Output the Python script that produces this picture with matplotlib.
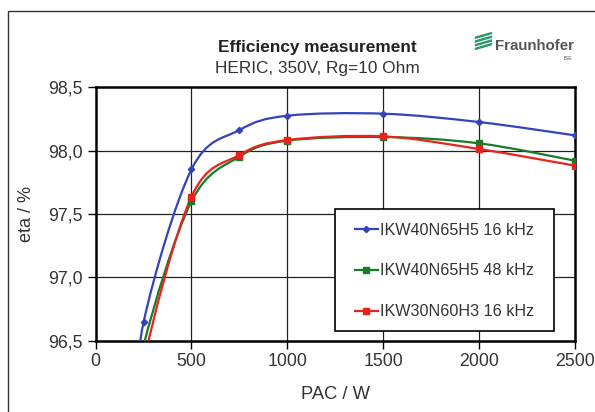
#!/usr/bin/env python3
"""Efficiency measurement, HERIC 350V - three IGBT variants."""

import numpy as np
import matplotlib
matplotlib.use('Agg')
import matplotlib.pyplot as plt
from matplotlib.path import Path
from matplotlib.patches import PathPatch, Rectangle, Polygon
from matplotlib.lines import Line2D

plt.rcParams['font.family'] = ['Liberation Sans', 'DejaVu Sans']

# measured points (PAC in W, eta in %)
pac = [200, 250, 500, 750, 1000, 1500, 2000, 2500]
eta_h5_16 = [95.75, 96.645, 97.853, 98.163, 98.276, 98.292, 98.226, 98.121]
eta_h5_48 = [95.75, 96.46, 97.600, 97.953, 98.079, 98.108, 98.058, 97.921]
eta_h3_16 = [95.55, 96.33, 97.637, 97.966, 98.084, 98.113, 98.013, 97.882]

labels = ['IKW40N65H5 16 kHz', 'IKW40N65H5 48 kHz', 'IKW30N60H3 16 kHz']
colors = ['#3344bb', '#1a7a2a', '#e8231c']
markers = ['D', 's', 's']
msizes = [3.2, 4.5, 4.5]
xticks = [0, 500, 1000, 1500, 2000, 2500]
yticks = [96.5, 97.0, 97.5, 98.0, 98.5]


def smooth_path(x, y):
    """Excel-like smoothed line: cubic Bezier through every point."""
    p = np.column_stack([x, y]).astype(float)
    verts = [p[0]]
    codes = [Path.MOVETO]
    n = len(p)
    for i in range(n - 1):
        p0 = p[i - 1] if i > 0 else p[i]
        p3 = p[i + 2] if i + 2 < n else p[i + 1]
        c1 = p[i] + (p[i + 1] - p0) / 6.0
        c2 = p[i + 1] - (p3 - p[i]) / 6.0
        verts += [c1, c2, p[i + 1]]
        codes += [Path.CURVE4] * 3
    return Path(verts, codes)


fig = plt.figure(figsize=(5.95, 4.12), dpi=100)
ax = fig.add_axes([0.1607, 0.173, 0.8057, 0.615])

for xv in xticks[1:-1]:
    ax.axvline(xv, color='#222222', lw=0.9, zorder=1)
for yv in yticks[1:-1]:
    ax.axhline(yv, color='#222222', lw=0.9, zorder=1)

series = [eta_h5_16, eta_h5_48, eta_h3_16]
for ys, c, m, ms, lab in zip(series, colors, markers, msizes, labels):
    patch = PathPatch(smooth_path(pac, ys), facecolor='none', edgecolor=c,
                      lw=1.6, zorder=3)
    ax.add_patch(patch)
    ax.plot(pac, ys, ls='none', marker=m, ms=ms, color=c, zorder=4)

ax.set_xlim(0, 2500)
ax.set_ylim(96.5, 98.5)
ax.set_xticks(xticks)
ax.set_yticks(yticks)
ax.set_xticklabels([str(v) for v in xticks])
ax.set_yticklabels([f'{v:.1f}'.replace('.', ',') for v in yticks])
ax.tick_params(axis='both', direction='out', length=5.5, width=1,
               labelsize=12.8, labelcolor='#333333', pad=3.5)
for s in ax.spines.values():
    s.set_linewidth(1.8)
    s.set_color('black')

ax.set_xlabel('PAC / W', fontsize=13.2, color='#333333', labelpad=11)
ax.set_ylabel('eta / %', fontsize=13, color='#333333', labelpad=10)

# legend box (white, black edge) with the entries placed inside it
ax.add_patch(Rectangle((0.4994, 0.039), 0.4566, 0.481,
                       transform=ax.transAxes, facecolor='white',
                       edgecolor='black', lw=1.2, zorder=5))
handles = [Line2D([], [], color=c, marker=m, ms=ms, lw=1.6)
           for c, m, ms in zip(colors, markers, msizes)]
leg = ax.legend(handles, labels, loc='upper left',
                bbox_to_anchor=(0.541, 0.466), fontsize=11.6,
                frameon=False, labelspacing=1.6,
                handlelength=1.43, handletextpad=0.15, borderpad=0,
                borderaxespad=0)
for t in leg.get_texts():
    t.set_color('#333333')
leg.set_zorder(6)

fig.text(0.533, 0.884, 'Efficiency measurement', ha='center', va='center',
         fontsize=12.4, fontweight='bold', color='#222222')
fig.text(0.533, 0.833, 'HERIC, 350V, Rg=10 Ohm', ha='center', va='center',
         fontsize=12.4, color='#333333')

# Fraunhofer logo
for k in range(4):
    y0 = 0.878 + k * 0.009
    fig.patches.append(Polygon([[0.798, y0], [0.827, y0 + 0.012],
                                [0.827, y0 + 0.018], [0.798, y0 + 0.006]],
                               closed=True, transform=fig.transFigure,
                               facecolor='#2a9a6a', edgecolor='none'))
fig.text(0.832, 0.889, 'Fraunhofer', ha='left', va='center', fontsize=10.8,
         fontweight='bold', color='#555555')
fig.text(0.962, 0.858, 'ISE', ha='right', va='center', fontsize=4,
         color='#555555')

# outer frame of the slide
fig.patches.append(Rectangle((0.0128, -0.1), 1.1, 1.073,
                             transform=fig.transFigure, fill=False,
                             edgecolor='#333333', lw=1.0))

fig.savefig('out.png', dpi=100)
